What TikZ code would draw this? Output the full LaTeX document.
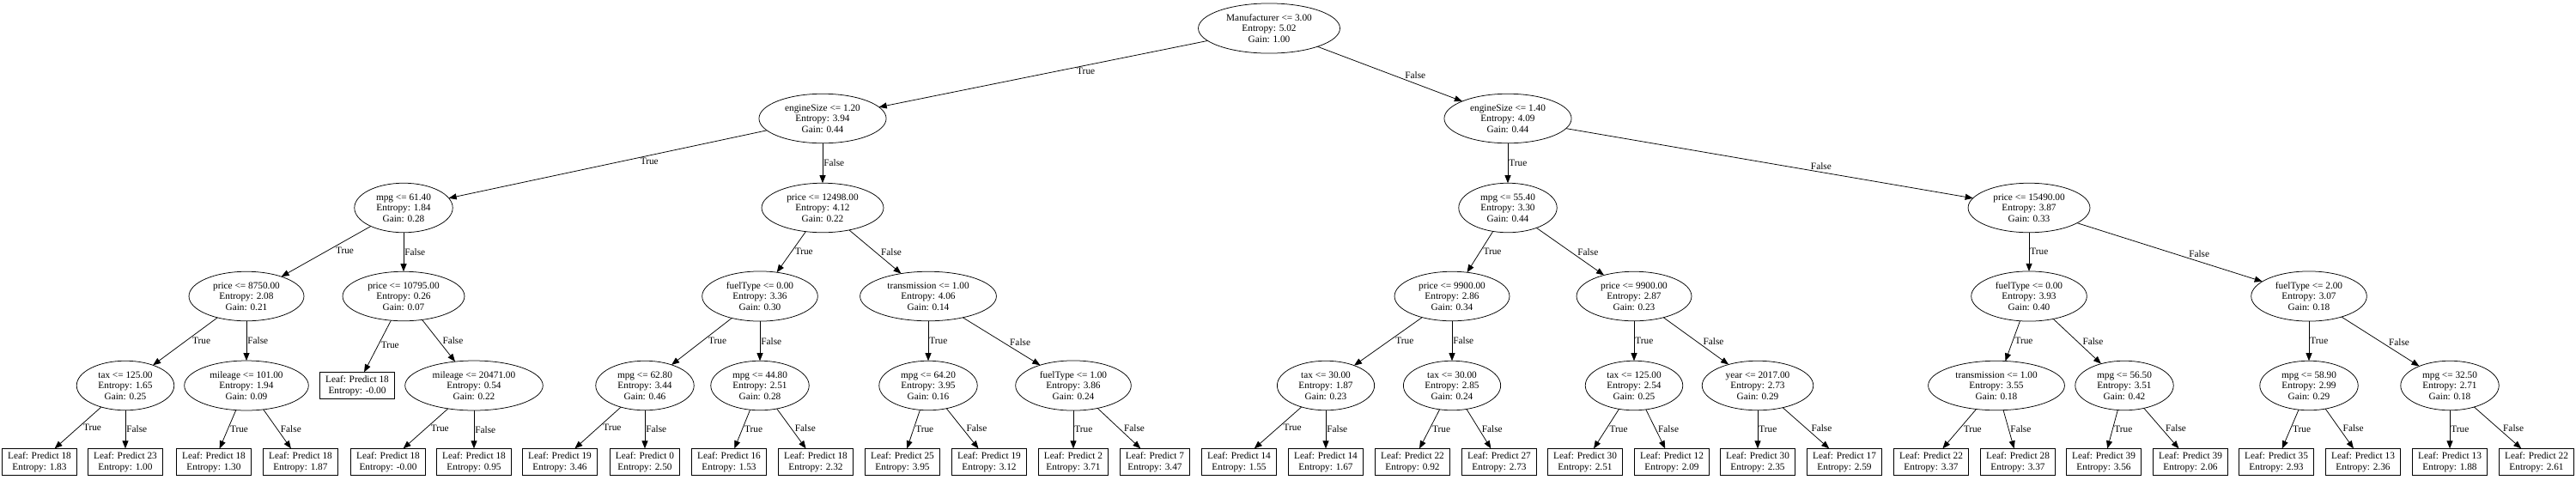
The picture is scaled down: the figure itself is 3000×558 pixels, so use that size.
\documentclass[tikz,border=0pt]{standalone}
\usepackage{fontspec}
\setmainfont{Liberation Serif}
\usetikzlibrary{shapes.geometric,arrows.meta}
\begin{document}
\begin{tikzpicture}[x=1pt,y=-1pt,
  every node/.style={font=\fontsize{11.3}{12.5}\selectfont},
  split/.style={ellipse,draw,line width=0.75pt,align=center,inner xsep=8.5pt,inner ysep=4pt,outer sep=0pt},
  leaf/.style={rectangle,draw,line width=0.9pt,align=center,inner xsep=6.6pt,inner ysep=4.2pt,outer sep=0pt},
  arr/.style={-{Triangle[length=9pt,width=7pt]},line width=0.75pt},
  lblL/.style={pos=0.4,anchor=north west,inner sep=0.5pt},
  lblV/.style={pos=0.5,anchor=west,inner sep=1pt},
  lblR/.style={pos=0.6,anchor=south west,inner sep=0.5pt}]
\useasboundingbox (0,0) rectangle (3000,558);
% rank 0
\node[split] (root) at (1478,33) {Manufacturer <= 3.00\\Entropy: 5.02\\Gain: 1.00};
% rank 1
\node[split] (A) at (958,138) {engineSize <= 1.20\\Entropy: 3.94\\Gain: 0.44};
\node[split] (B) at (1756,138) {engineSize <= 1.40\\Entropy: 4.09\\Gain: 0.44};
% rank 2
\node[split] (A1) at (470,242) {mpg <= 61.40\\Entropy: 1.84\\Gain: 0.28};
\node[split] (A2) at (958,242) {price <= 12498.00\\Entropy: 4.12\\Gain: 0.22};
\node[split] (B1) at (1756,242) {mpg <= 55.40\\Entropy: 3.30\\Gain: 0.44};
\node[split] (B2) at (2363,242) {price <= 15490.00\\Entropy: 3.87\\Gain: 0.33};
% rank 3
\node[split] (A1a) at (287,345) {price <= 8750.00\\Entropy: 2.08\\Gain: 0.21};
\node[split] (A1b) at (470,345) {price <= 10795.00\\Entropy: 0.26\\Gain: 0.07};
\node[split] (A2a) at (885,345) {fuelType <= 0.00\\Entropy: 3.36\\Gain: 0.30};
\node[split] (A2b) at (1081,345) {transmission <= 1.00\\Entropy: 4.06\\Gain: 0.14};
\node[split] (B1a) at (1691,345) {price <= 9900.00\\Entropy: 2.86\\Gain: 0.34};
\node[split] (B1b) at (1903,345) {price <= 9900.00\\Entropy: 2.87\\Gain: 0.23};
\node[split] (B2a) at (2363,345) {fuelType <= 0.00\\Entropy: 3.93\\Gain: 0.40};
\node[split] (B2b) at (2689,345) {fuelType <= 2.00\\Entropy: 3.07\\Gain: 0.18};
% rank 4
\node[split] (C1) at (146,449) {tax <= 125.00\\Entropy: 1.65\\Gain: 0.25};
\node[split] (C2) at (287,449) {mileage <= 101.00\\Entropy: 1.94\\Gain: 0.09};
\node[leaf]  (C3) at (416,449) {Leaf: Predict 18\\Entropy: -0.00};
\node[split] (C4) at (552,449) {mileage <= 20471.00\\Entropy: 0.54\\Gain: 0.22};
\node[split] (C5) at (751,449) {mpg <= 62.80\\Entropy: 3.44\\Gain: 0.46};
\node[split] (C6) at (885,449) {mpg <= 44.80\\Entropy: 2.51\\Gain: 0.28};
\node[split] (C7) at (1081,449) {mpg <= 64.20\\Entropy: 3.95\\Gain: 0.16};
\node[split] (C8) at (1250,449) {fuelType <= 1.00\\Entropy: 3.86\\Gain: 0.24};
\node[split] (C9) at (1544,449) {tax <= 30.00\\Entropy: 1.87\\Gain: 0.23};
\node[split] (C10) at (1691,449) {tax <= 30.00\\Entropy: 2.85\\Gain: 0.24};
\node[split] (C11) at (1903,449) {tax <= 125.00\\Entropy: 2.54\\Gain: 0.25};
\node[split] (C12) at (2047,449) {year <= 2017.00\\Entropy: 2.73\\Gain: 0.29};
\node[split] (C13) at (2325,449) {transmission <= 1.00\\Entropy: 3.55\\Gain: 0.18};
\node[split] (C14) at (2474,449) {mpg <= 56.50\\Entropy: 3.51\\Gain: 0.42};
\node[split] (C15) at (2689,449) {mpg <= 58.90\\Entropy: 2.99\\Gain: 0.29};
\node[split] (C16) at (2853,449) {mpg <= 32.50\\Entropy: 2.71\\Gain: 0.18};
% rank 5 leaves
\node[leaf] (L1) at (46,538) {Leaf: Predict 18\\Entropy: 1.83};
\node[leaf] (L2) at (146,538) {Leaf: Predict 23\\Entropy: 1.00};
\node[leaf] (L3) at (249,538) {Leaf: Predict 18\\Entropy: 1.30};
\node[leaf] (L4) at (350,538) {Leaf: Predict 18\\Entropy: 1.87};
\node[leaf] (L5) at (452,538) {Leaf: Predict 18\\Entropy: -0.00};
\node[leaf] (L6) at (552,538) {Leaf: Predict 18\\Entropy: 0.95};
\node[leaf] (L7) at (652,538) {Leaf: Predict 19\\Entropy: 3.46};
\node[leaf] (L8) at (751,538) {Leaf: Predict 0\\Entropy: 2.50};
\node[leaf] (L9) at (849,538) {Leaf: Predict 16\\Entropy: 1.53};
\node[leaf] (L10) at (950,538) {Leaf: Predict 18\\Entropy: 2.32};
\node[leaf] (L11) at (1051,538) {Leaf: Predict 25\\Entropy: 3.95};
\node[leaf] (L12) at (1152,538) {Leaf: Predict 19\\Entropy: 3.12};
\node[leaf] (L13) at (1250,538) {Leaf: Predict 2\\Entropy: 3.71};
\node[leaf] (L14) at (1345,538) {Leaf: Predict 7\\Entropy: 3.47};
\node[leaf] (L15) at (1443,538) {Leaf: Predict 14\\Entropy: 1.55};
\node[leaf] (L16) at (1544,538) {Leaf: Predict 14\\Entropy: 1.67};
\node[leaf] (L17) at (1645,538) {Leaf: Predict 22\\Entropy: 0.92};
\node[leaf] (L18) at (1746,538) {Leaf: Predict 27\\Entropy: 2.73};
\node[leaf] (L19) at (1846,538) {Leaf: Predict 30\\Entropy: 2.51};
\node[leaf] (L20) at (1947,538) {Leaf: Predict 12\\Entropy: 2.09};
\node[leaf] (L21) at (2047,538) {Leaf: Predict 30\\Entropy: 2.35};
\node[leaf] (L22) at (2148,538) {Leaf: Predict 17\\Entropy: 2.59};
\node[leaf] (L23) at (2249,538) {Leaf: Predict 22\\Entropy: 3.37};
\node[leaf] (L24) at (2350,538) {Leaf: Predict 28\\Entropy: 3.37};
\node[leaf] (L25) at (2450,538) {Leaf: Predict 39\\Entropy: 3.56};
\node[leaf] (L26) at (2551,538) {Leaf: Predict 39\\Entropy: 2.06};
\node[leaf] (L27) at (2651,538) {Leaf: Predict 35\\Entropy: 2.93};
\node[leaf] (L28) at (2752,538) {Leaf: Predict 13\\Entropy: 2.36};
\node[leaf] (L29) at (2853,538) {Leaf: Predict 13\\Entropy: 1.88};
\node[leaf] (L30) at (2954,538) {Leaf: Predict 22\\Entropy: 2.61};
% edges
\draw[arr] (root) -- node[lblL]{True} (A);
\draw[arr] (root) -- node[lblR]{False} (B);
\draw[arr] (A) -- node[lblL]{True} (A1);
\draw[arr] (A) -- node[lblV]{False} (A2);
\draw[arr] (B) -- node[lblV]{True} (B1);
\draw[arr] (B) -- node[lblR]{False} (B2);
\draw[arr] (A1) -- node[lblL]{True} (A1a);
\draw[arr] (A1) -- node[lblV]{False} (A1b);
\draw[arr] (A2) -- node[lblL]{True} (A2a);
\draw[arr] (A2) -- node[lblR]{False} (A2b);
\draw[arr] (B1) -- node[lblL]{True} (B1a);
\draw[arr] (B1) -- node[lblR]{False} (B1b);
\draw[arr] (B2) -- node[lblV]{True} (B2a);
\draw[arr] (B2) -- node[lblR]{False} (B2b);
\draw[arr] (A1a) -- node[lblL]{True} (C1);
\draw[arr] (A1a) -- node[lblV]{False} (C2);
\draw[arr] (A1b) -- node[lblL]{True} (C3);
\draw[arr] (A1b) -- node[lblR]{False} (C4);
\draw[arr] (A2a) -- node[lblL]{True} (C5);
\draw[arr] (A2a) -- node[lblV]{False} (C6);
\draw[arr] (A2b) -- node[lblV]{True} (C7);
\draw[arr] (A2b) -- node[lblR]{False} (C8);
\draw[arr] (B1a) -- node[lblL]{True} (C9);
\draw[arr] (B1a) -- node[lblV]{False} (C10);
\draw[arr] (B1b) -- node[lblV]{True} (C11);
\draw[arr] (B1b) -- node[lblR]{False} (C12);
\draw[arr] (B2a) -- node[lblL]{True} (C13);
\draw[arr] (B2a) -- node[lblR]{False} (C14);
\draw[arr] (B2b) -- node[lblV]{True} (C15);
\draw[arr] (B2b) -- node[lblR]{False} (C16);
\draw[arr] (C1) -- node[lblL]{True} (L1);
\draw[arr] (C1) -- node[lblV]{False} (L2);
\draw[arr] (C2) -- node[lblL]{True} (L3);
\draw[arr] (C2) -- node[lblR]{False} (L4);
\draw[arr] (C4) -- node[lblL]{True} (L5);
\draw[arr] (C4) -- node[lblV]{False} (L6);
\draw[arr] (C5) -- node[lblL]{True} (L7);
\draw[arr] (C5) -- node[lblV]{False} (L8);
\draw[arr] (C6) -- node[lblL]{True} (L9);
\draw[arr] (C6) -- node[lblR]{False} (L10);
\draw[arr] (C7) -- node[lblL]{True} (L11);
\draw[arr] (C7) -- node[lblR]{False} (L12);
\draw[arr] (C8) -- node[lblV]{True} (L13);
\draw[arr] (C8) -- node[lblR]{False} (L14);
\draw[arr] (C9) -- node[lblL]{True} (L15);
\draw[arr] (C9) -- node[lblV]{False} (L16);
\draw[arr] (C10) -- node[lblL]{True} (L17);
\draw[arr] (C10) -- node[lblR]{False} (L18);
\draw[arr] (C11) -- node[lblL]{True} (L19);
\draw[arr] (C11) -- node[lblR]{False} (L20);
\draw[arr] (C12) -- node[lblV]{True} (L21);
\draw[arr] (C12) -- node[lblR]{False} (L22);
\draw[arr] (C13) -- node[lblL]{True} (L23);
\draw[arr] (C13) -- node[lblR]{False} (L24);
\draw[arr] (C14) -- node[lblL]{True} (L25);
\draw[arr] (C14) -- node[lblR]{False} (L26);
\draw[arr] (C15) -- node[lblL]{True} (L27);
\draw[arr] (C15) -- node[lblR]{False} (L28);
\draw[arr] (C16) -- node[lblV]{True} (L29);
\draw[arr] (C16) -- node[lblR]{False} (L30);
\end{tikzpicture}
\end{document}
